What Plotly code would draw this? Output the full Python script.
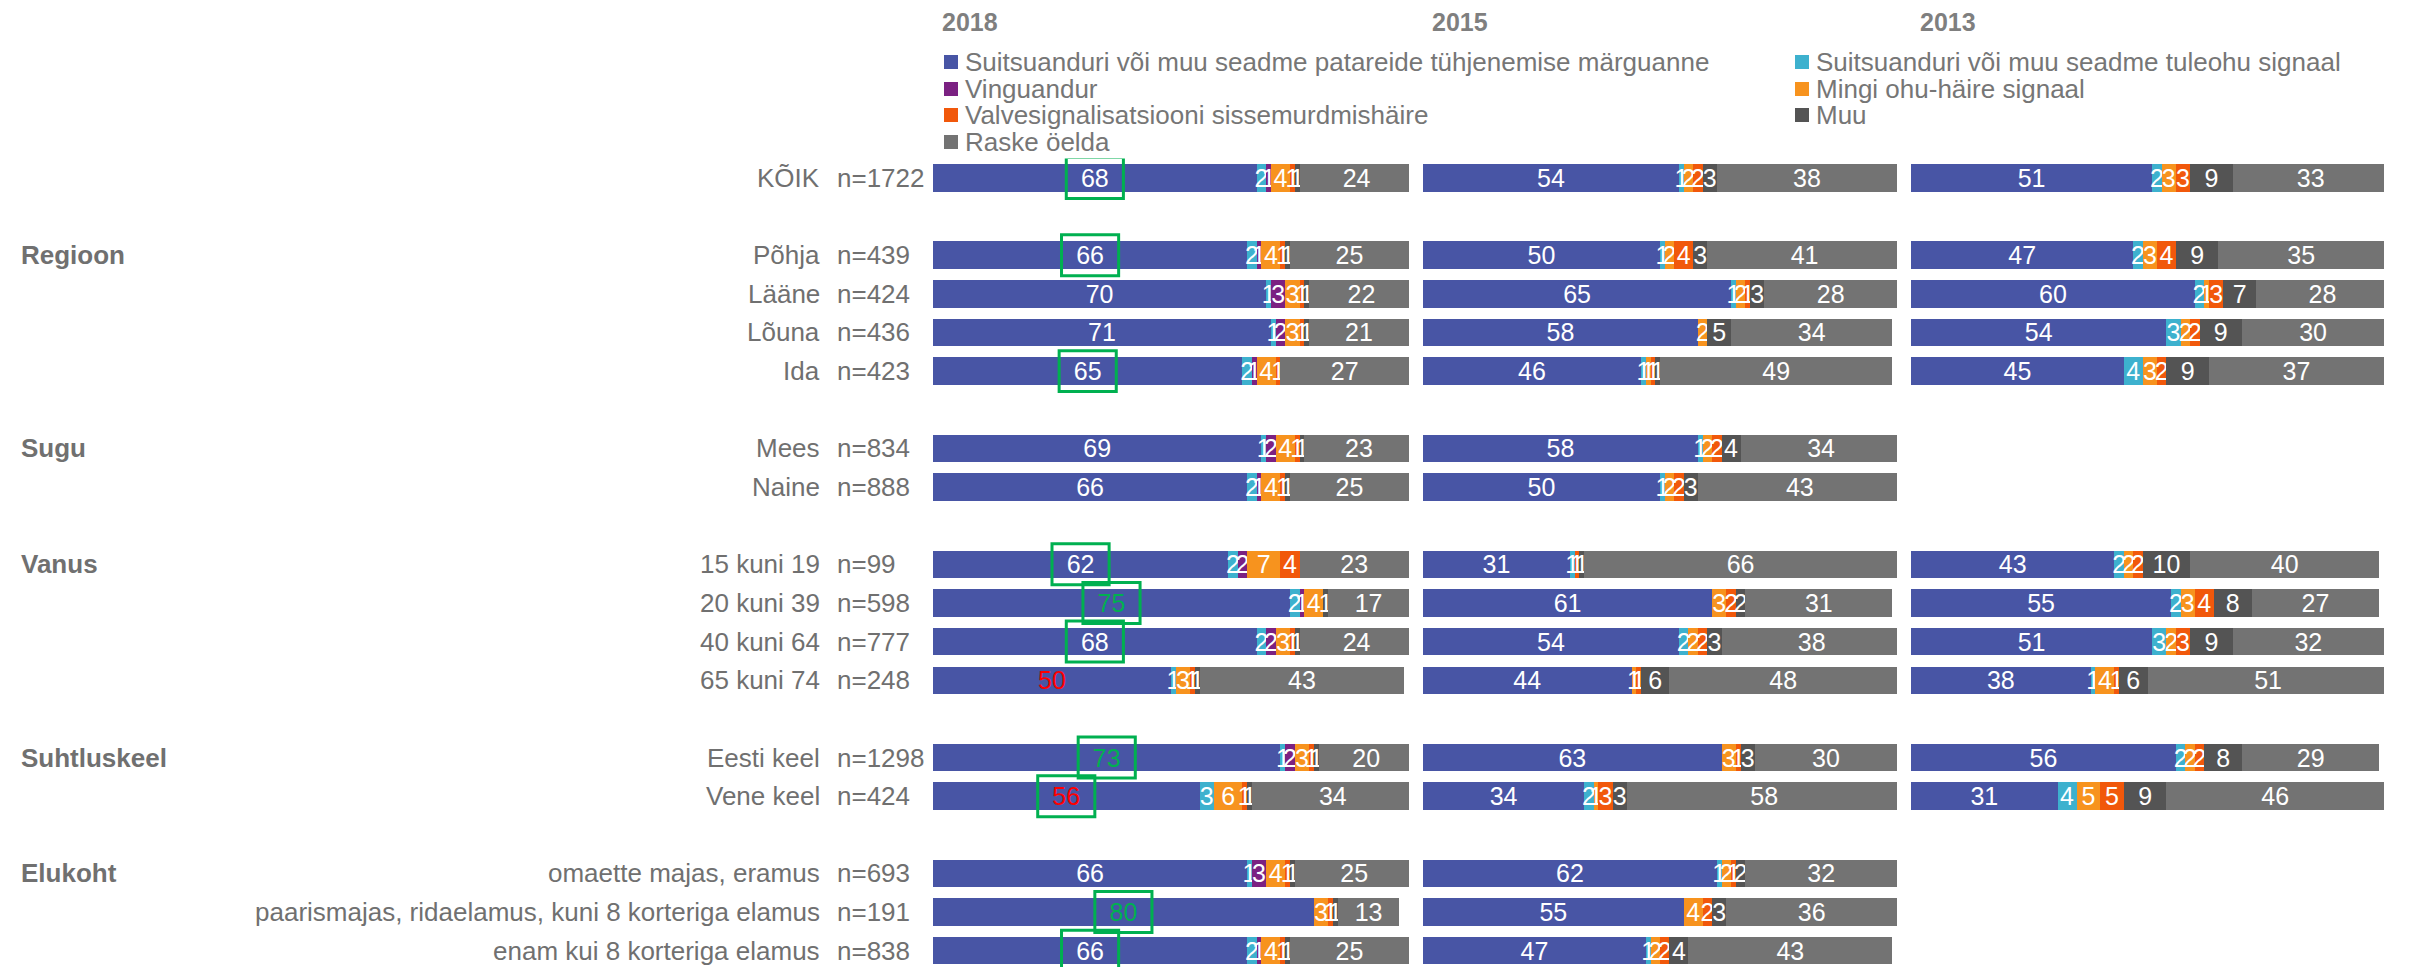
import plotly.graph_objects as go

# ---- categories and colours -------------------------------------------------
categories = [
    "Suitsuanduri või muu seadme patareide tühjenemise märguanne",
    "Suitsuanduri või muu seadme tuleohu signaal",
    "Vinguandur",
    "Mingi ohu-häire signaal",
    "Valvesignalisatsiooni sissemurdmishäire",
    "Muu",
    "Raske öelda",
]
colors = ["#4855A5", "#3DB1CE", "#7B2182", "#F7931E", "#F1580B", "#545454", "#737373"]

# ---- rows ------------------------------------------------------------------
row_group = ["", "Regioon", "Regioon", "Regioon", "Regioon", "Sugu", "Sugu",
             "Vanus", "Vanus", "Vanus", "Vanus", "Suhtluskeel", "Suhtluskeel",
             "Elukoht", "Elukoht", "Elukoht"]
row_labels = ["KÕIK", "Põhja", "Lääne", "Lõuna", "Ida", "Mees", "Naine",
              "15 kuni 19", "20 kuni 39", "40 kuni 64", "65 kuni 74",
              "Eesti keel", "Vene keel", "omaette majas, eramus",
              "paarismajas, ridaelamus, kuni 8 korteriga elamus",
              "enam kui 8 korteriga elamus"]
row_n = ["n=1722", "n=439", "n=424", "n=436", "n=423", "n=834", "n=888",
         "n=99", "n=598", "n=777", "n=248", "n=1298", "n=424",
         "n=693", "n=191", "n=838"]

years = ["2018", "2015", "2013"]

# ---- 2018 ------------------------------------------------------------------
v2018_patareid = [68, 66, 70, 71, 65, 69, 66, 62, 75, 68, 50, 73, 56, 66, 80, 66]
v2018_tuleoht = [2, 2, 1, 1, 2, 1, 2, 2, 2, 2, 1, 1, 3, 1, 0, 2]
v2018_vingu = [1, 1, 3, 2, 1, 2, 1, 2, 1, 2, 0, 2, 0, 3, 0, 1]
v2018_ohuhaire = [4, 4, 3, 3, 4, 4, 4, 7, 4, 3, 3, 3, 6, 4, 3, 4]
v2018_valve = [1, 1, 1, 1, 1, 1, 1, 4, 0, 1, 1, 1, 1, 1, 1, 1]
v2018_muu = [1, 1, 1, 1, 0, 1, 1, 0, 1, 1, 1, 1, 1, 1, 1, 1]
v2018_raske = [24, 25, 22, 21, 27, 23, 25, 23, 17, 24, 43, 20, 34, 25, 13, 25]
# boxed first-category values and their change direction vs. earlier years
v2018_box = [1, 1, 0, 0, 1, 0, 0, 1, 1, 1, 0, 1, 1, 0, 1, 1]
v2018_change = ["", "", "", "", "", "", "", "", "up", "", "down", "up", "down", "", "up", ""]

# ---- 2015 ------------------------------------------------------------------
v2015_patareid = [54, 50, 65, 58, 46, 58, 50, 31, 61, 54, 44, 63, 34, 62, 55, 47]
v2015_tuleoht = [1, 1, 1, 0, 1, 1, 1, 1, 0, 2, 0, 0, 2, 1, 0, 1]
v2015_vingu = [0] * 16
v2015_ohuhaire = [2, 2, 2, 2, 1, 2, 2, 0, 3, 2, 1, 3, 1, 2, 4, 2]
v2015_valve = [2, 4, 1, 0, 1, 2, 2, 1, 2, 2, 1, 1, 3, 1, 2, 2]
v2015_muu = [3, 3, 3, 5, 1, 4, 3, 1, 2, 3, 6, 3, 3, 2, 3, 4]
v2015_raske = [38, 41, 28, 34, 49, 34, 43, 66, 31, 38, 48, 30, 58, 32, 36, 43]

# ---- 2013 (no data for Sugu and Elukoht) -----------------------------------
N = None
v2013_patareid = [51, 47, 60, 54, 45, N, N, 43, 55, 51, 38, 56, 31, N, N, N]
v2013_tuleoht = [2, 2, 2, 3, 4, N, N, 2, 2, 3, 1, 2, 4, N, N, N]
v2013_vingu = [0, 0, 0, 0, 0, N, N, 0, 0, 0, 0, 0, 0, N, N, N]
v2013_ohuhaire = [3, 3, 1, 2, 3, N, N, 2, 3, 2, 4, 2, 5, N, N, N]
v2013_valve = [3, 4, 3, 2, 2, N, N, 2, 4, 3, 1, 2, 5, N, N, N]
v2013_muu = [9, 9, 7, 9, 9, N, N, 10, 8, 9, 6, 8, 9, N, N, N]
v2013_raske = [33, 35, 28, 30, 37, N, N, 40, 27, 32, 51, 29, 46, N, N, N]

series = {
    "2018": [v2018_patareid, v2018_tuleoht, v2018_vingu, v2018_ohuhaire,
             v2018_valve, v2018_muu, v2018_raske],
    "2015": [v2015_patareid, v2015_tuleoht, v2015_vingu, v2015_ohuhaire,
             v2015_valve, v2015_muu, v2015_raske],
    "2013": [v2013_patareid, v2013_tuleoht, v2013_vingu, v2013_ohuhaire,
             v2013_valve, v2013_muu, v2013_raske],
}

# ---- layout helpers --------------------------------------------------------
W, H = 2420, 967
FONT = "Arial, Liberation Sans, sans-serif"
TEXT_GREY = "#707070"
GREEN = "#00B050"
RED = "#FF0000"

# one empty slot between groups
slots = []
pos = 0
for i, g in enumerate(row_group):
    if i > 0 and g != row_group[i - 1]:
        pos += 1
    slots.append(pos)
    pos += 1

panel_px = [(933, 1409), (1423, 1897), (1911, 2384)]
axis_ids = ["x", "x2", "x3"]


def px_x(p):
    return p / W


def px_y(p):
    return 1 - p / H


fig = go.Figure()

for yi, year in enumerate(years):
    for ci, cat in enumerate(categories):
        vals = series[year][ci]
        ys = [s for s, v in zip(slots, vals) if v is not None]
        xs = [v for v in vals if v is not None]
        txt = [str(v) if v else "" for v in xs]
        tcol = ["white"] * len(xs)
        if year == "2018" and ci == 0:
            tcol = [GREEN if c == "up" else RED if c == "down" else "white"
                    for c in v2018_change]
        fig.add_trace(go.Bar(
            x=xs, y=ys, orientation="h", name=cat,
            marker=dict(color=colors[ci], line=dict(width=0)),
            width=0.71,
            text=txt, textposition="inside", insidetextanchor="middle",
            constraintext="none", textangle=0,
            textfont=dict(family=FONT, size=25, color=tcol),
            xaxis=axis_ids[yi], yaxis="y", showlegend=False,
            hoverinfo="skip",
        ))

shapes = []
annotations = []

# green frames around highlighted 2018 values
for s, v, b in zip(slots, v2018_patareid, v2018_box):
    if b:
        shapes.append(dict(type="rect", xref="x", yref="y",
                           x0=v / 2 - 6, x1=v / 2 + 6, y0=s - 0.53, y1=s + 0.53,
                           line=dict(color=GREEN, width=3), fillcolor="rgba(0,0,0,0)"))

# row, n and group labels
for i, s in enumerate(slots):
    annotations.append(dict(x=px_x(822), y=s, xref="paper", yref="y",
                            text=row_labels[i], showarrow=False, xanchor="right",
                            yanchor="middle", font=dict(family=FONT, size=26, color=TEXT_GREY)))
    annotations.append(dict(x=px_x(835), y=s, xref="paper", yref="y",
                            text=row_n[i], showarrow=False, xanchor="left",
                            yanchor="middle", font=dict(family=FONT, size=26, color=TEXT_GREY)))
    g = row_group[i]
    if g and (i == 0 or row_group[i - 1] != g):
        annotations.append(dict(x=px_x(19), y=s, xref="paper", yref="y",
                                text="<b>" + g + "</b>", showarrow=False, xanchor="left",
                                yanchor="middle", font=dict(family=FONT, size=26, color=TEXT_GREY)))

# panel titles
for yi, year in enumerate(years):
    annotations.append(dict(x=px_x(panel_px[yi][0] + 7), y=px_y(22), xref="paper", yref="paper",
                            text="<b>" + year + "</b>", showarrow=False, xanchor="left",
                            yanchor="middle", font=dict(family=FONT, size=25, color="#7F7F7F")))

# legend: two columns, filled row by row
leg_cols = [944, 1795]
leg_rows = [62, 89, 115, 142]
for ci, cat in enumerate(categories):
    cx = leg_cols[ci % 2]
    cy = leg_rows[ci // 2]
    shapes.append(dict(type="rect", xref="paper", yref="paper",
                       x0=px_x(cx), x1=px_x(cx + 14), y0=px_y(cy + 7), y1=px_y(cy - 7),
                       line=dict(width=0), fillcolor=colors[ci]))
    annotations.append(dict(x=px_x(cx + 19), y=px_y(cy), xref="paper", yref="paper",
                            text=cat, showarrow=False, xanchor="left", yanchor="middle",
                            font=dict(family=FONT, size=26, color="#767676")))

# y range: slot pitch ~38.6 px with the first row centred at ~178 px
top_px = 158.6
y_lo = -0.5
y_hi = y_lo + (H - top_px) / 38.64
axis_common = dict(visible=False, showgrid=False, zeroline=False, range=[0, 100], fixedrange=True)
fig.update_layout(
    width=W, height=H,
    margin=dict(l=0, r=0, t=0, b=0),
    paper_bgcolor="white", plot_bgcolor="white",
    barmode="stack", showlegend=False,
    xaxis=dict(domain=[px_x(panel_px[0][0]), px_x(panel_px[0][1])], anchor="y", **axis_common),
    xaxis2=dict(domain=[px_x(panel_px[1][0]), px_x(panel_px[1][1])], anchor="y", **axis_common),
    xaxis3=dict(domain=[px_x(panel_px[2][0]), px_x(panel_px[2][1])], anchor="y", **axis_common),
    yaxis=dict(domain=[0, px_y(top_px)], range=[y_hi, y_lo], visible=False,
               showgrid=False, zeroline=False, fixedrange=True),
    shapes=shapes,
    annotations=annotations,
    font=dict(family=FONT),
)

fig.write_html("out.html")
